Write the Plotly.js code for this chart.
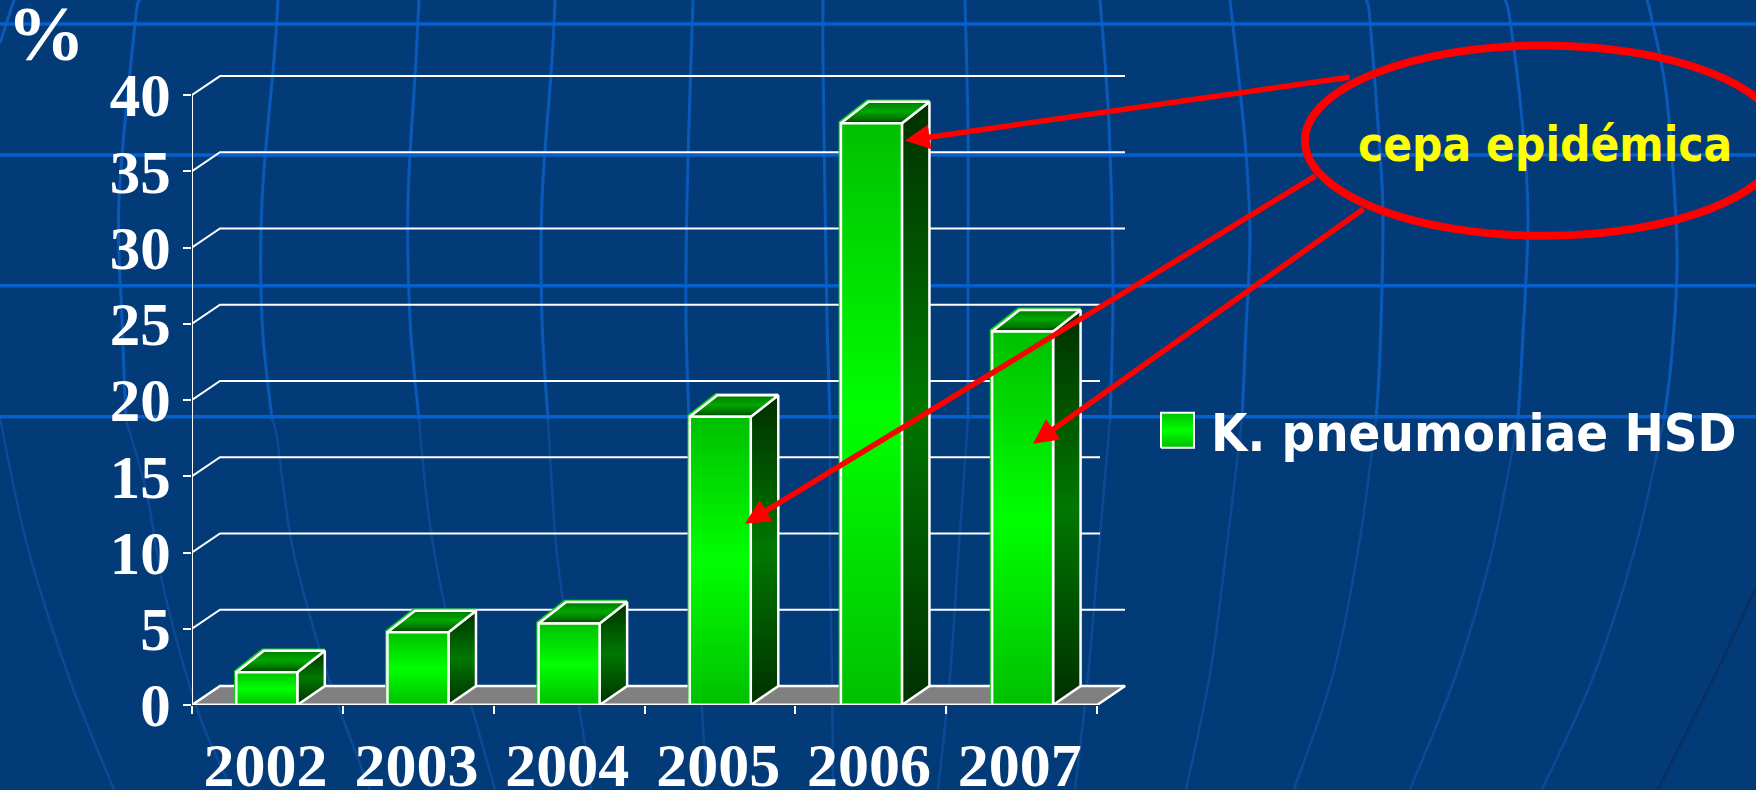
<!DOCTYPE html>
<html><head><meta charset="utf-8">
<script src="https://cdn.plot.ly/plotly-3.0.1.min.js"></script>
<style>html,body{margin:0;padding:0;background:#033b78;overflow:hidden}</style>
</head><body><div id="chart" style="width:1756px;height:790px"></div>
<script>
const years = ['2002','2003','2004','2005','2006','2007'];
const values = [2.15,4.77,5.34,18.9,38.15,24.5];
const gridValues = [5,10,15,20,25,30,35,40];
const seriesName = 'K. pneumoniae HSD';
const noteText = 'cepa epidémica';

// pixel geometry of the page
const W=1756,H=790,L=192,B=705.5,PXX=150.85,PXY=15.26;
const X=p=>-0.5+(p-L)/PXX, Y=p=>(B-p)/PXY;
const DX=x=>x/PXX, DY=y=>y/PXY;
const px=p=>(p-L)/(W-L), py=p=>(B-p)/B;

const WHITE='#ffffff';
// colour stops run bottom (0) to top (1) of each face
const FRONT=[[0,'#00c000'],[0.5,'#00ff00'],[1,'#00c000']];
const SIDE=[[0,'#003000'],[0.5,'#007800'],[1,'#003000']];
const TOP=[[0,'#003c00'],[0.2,'#007000'],[0.55,'#00a800'],[1,'#007c00']];
const traces=[];
const poly=(x,y,scale,lw,extra)=>Object.assign({type:'scatter',mode:lw?'lines':'none',x,y,fill:'toself',
  fillgradient:{type:'vertical',colorscale:scale},line:{color:WHITE,width:lw||0},hoverinfo:'skip',showlegend:false,cliponaxis:false},extra||{});
const line=(x,y,c,w)=>({type:'scatter',mode:'lines',x,y,line:{color:c,width:w},hoverinfo:'skip',showlegend:false,cliponaxis:false});

// floor
const fdx=DX(28), fdy=DY(19), xL=-0.5, xR=5.5;
traces.push({type:'scatter',mode:'lines',x:[xL,xL+fdx,xR+fdx,xR,xL],y:[0,fdy,fdy,0,0],fill:'toself',fillcolor:'#808080',
  line:{color:WHITE,width:2.5},hoverinfo:'skip',showlegend:false,cliponaxis:false});
// gridlines
const gridEnd={5:1125,10:1100,15:1100,20:1100,25:1100,30:1125,35:1125,40:1125};
gridValues.forEach(v=>traces.push(line([xL,xL+fdx,X(gridEnd[v])],[v,v+fdy,v+fdy],WHITE,2)));
traces.push(line([xL,xL],[0,40],WHITE,2));

// bars
const hw=DX(30.5), bdx=DX(27.5), bTop=DY(21.5), bBot=DY(19), c0=-0.004, s=1.002;
const gx=DX(1.3), gy=DY(1.3);
values.forEach((v,i)=>{
  const c=c0+i*s, a=c-hw, b=c+hw;
  traces.push(poly([b,b,b+bdx,b+bdx,b],[0,v,v+bTop,bBot,0],SIDE,2.5,{name:seriesName+' '+years[i]}));
  traces.push(line([a-gx,a-gx,a+bdx-gx,b+bdx],[0,v+gy,v+bTop+gy,v+bTop+gy],'#12d012',2));
  traces.push(poly([a,b,b+bdx,a+bdx,a],[v,v,v+bTop,v+bTop,v],TOP,2.5));
  traces.push(poly([a,b,b,a,a],[0,0,v,v,0],FRONT,2.5,{name:seriesName+' '+years[i]}));
});
traces.push(line([xL,xR],[0,0],WHITE,2.5));

// legend swatch
traces.push(poly([X(1161),X(1194),X(1194),X(1161),X(1161)],[Y(448),Y(448),Y(413),Y(413),Y(448)],
  [[0,'#00c000'],[0.5,'#00ff00'],[1,'#00c000']],2,{name:seriesName}));

// background globe lines
const upper=[
 [[14,0],[0,43]],
 [[140,0],[135,24],[119,200],[122,320],[126,420]],
 [[278,0],[274,60],[262,200],[262,320],[272,420]],
 [[419,0],[416,60],[408,200],[410,320],[419,420]],
 [[555,0],[552,60],[542,200],[542,320],[548,420]],
 [[693,0],[691,60],[687,200],[686,320],[689,420]],
 [[823,0],[823,60],[825,200],[827,320],[830,420]],
 [[965,0],[968,130],[968,260],[968,420]],
 [[1100,0],[1109,125],[1113,290],[1110,420]],
 [[1230,0],[1239,80],[1246,153],[1250,237],[1246,330],[1242,420]],
 [[1366,0],[1370,20],[1380,153],[1383,220],[1380,353],[1376,420]],
 [[1505,0],[1510,20],[1522,120],[1528,220],[1522,353],[1518,420]],
 [[1647,0],[1652,20],[1667,100],[1677,250],[1672,353],[1664,420]]
];
const lower=[
 [[0,418],[27,545],[69,678],[114,790]],
 [[126,420],[147,495],[165,595],[199,715],[232,790]],
 [[272,420],[277,438],[292,545],[319,648],[344,722],[370,790]],
 [[419,420],[429,518],[446,612],[473,712],[495,790]],
 [[548,420],[556,545],[567,628],[585,745],[591,790]],
 [[689,420],[692,560],[702,710],[707,790]],
 [[830,420],[830,560],[832,677],[833,790]],
 [[968,420],[958,560],[950,677],[938,790]],
 [[1110,420],[1098,560],[1088,677],[1075,790]],
 [[1242,420],[1227,545],[1210,675],[1186,790]],
 [[1376,420],[1359,545],[1333,675],[1294,790]],
 [[1518,420],[1492,552],[1456,675],[1410,790]],
 [[1664,420],[1636,545],[1593,678],[1542,790]]
];
const shapes=[];
// smooth curve through the read points (Catmull-Rom as cubic Beziers)
const pathOf=pts=>{
  const P=pts.map(p=>[px(p[0]),py(p[1])]);
  let d='M'+P[0][0]+','+P[0][1];
  for(let i=0;i<P.length-1;i++){
    const p0=P[Math.max(i-1,0)],p1=P[i],p2=P[i+1],p3=P[Math.min(i+2,P.length-1)];
    d+=' C'+(p1[0]+(p2[0]-p0[0])/6)+','+(p1[1]+(p2[1]-p0[1])/6)+' '+(p2[0]-(p3[0]-p1[0])/6)+','+(p2[1]-(p3[1]-p1[1])/6)+' '+p2[0]+','+p2[1];
  }
  return d;
};
const bgLine=(pts,c,w)=>shapes.push({type:'path',layer:'below',xref:'paper',yref:'paper',path:pathOf(pts),line:{color:c,width:w}});
upper.forEach(l=>bgLine(l,'#0a59b9',3));
lower.forEach(l=>bgLine(l,'#0d4a96',2.5));
bgLine([[1756,588],[1714,678],[1658,790]],'#0c2f61',2.5);
[24,155,286,417].forEach(y=>bgLine([[0,y],[W,y]],'#0660cc',3.5));

// callout ellipse
shapes.push({type:'circle',layer:'above',xref:'x',yref:'y',x0:X(1305),x1:X(1782),y0:Y(236),y1:Y(45.5),line:{color:'#ff0000',width:8}});

const arrow=(x0,y0,x1,y1)=>({xref:'x',yref:'y',axref:'x',ayref:'y',x:X(x1),y:Y(y1),ax:X(x0),ay:Y(y0),text:' ',font:{size:1},
  showarrow:true,arrowhead:2,arrowsize:0.9,arrowwidth:5.5,arrowcolor:'#ff0000',standoff:0,startstandoff:0});
const serif={family:'"Liberation Serif",serif',color:WHITE};
const sans='"DejaVu Sans Condensed","DejaVu Sans",sans-serif';
const annotations=[
  arrow(1351,77,905,140.7),
  arrow(1317,175,745,524),
  arrow(1365,208,1033,444),
  {xref:'x',yref:'y',x:X(1356),y:Y(145),xanchor:'left',yanchor:'middle',showarrow:false,text:noteText,
    font:{family:sans,size:47.3,weight:700,color:'#ffff00'}},
  {xref:'x',yref:'y',x:X(1209),y:Y(433),xanchor:'left',yanchor:'middle',showarrow:false,text:seriesName,
    font:{family:sans,size:52.2,weight:700,color:WHITE}},
  {xref:'paper',yref:'paper',x:px(46),y:py(34),xanchor:'center',yanchor:'middle',showarrow:false,text:'%',
    font:Object.assign({size:78,weight:700},serif)}
];

const layout={
  width:W,height:H,paper_bgcolor:'#033b78',plot_bgcolor:'rgba(0,0,0,0)',showlegend:false,
  margin:{l:L,r:0,t:0,b:H-B,pad:0},
  xaxis:{range:[X(L),X(W)],showgrid:false,zeroline:false,showline:false,
    tickmode:'array',tickvals:years.map((y,i)=>i-0.012),ticktext:years,ticks:'',ticklabelstandoff:18,
    tickfont:Object.assign({size:62,weight:700},serif),
    minor:{tickmode:'array',tickvals:[-0.5,0.5,1.5,2.5,3.5,4.5,5.5],ticks:'outside',ticklen:8,tickwidth:2,tickcolor:WHITE,showgrid:false}},
  yaxis:{range:[0,Y(0)],showgrid:false,zeroline:false,showline:false,
    tickmode:'array',tickvals:[0,5,10,15,20,25,30,35,40],ticks:'outside',ticklen:8,tickwidth:2,tickcolor:WHITE,ticklabelstandoff:0,
    tickfont:Object.assign({size:61,weight:700},serif)},
  shapes,annotations
};
Plotly.newPlot('chart',traces,layout,{displayModeBar:false,staticPlot:true});
</script></body></html>
